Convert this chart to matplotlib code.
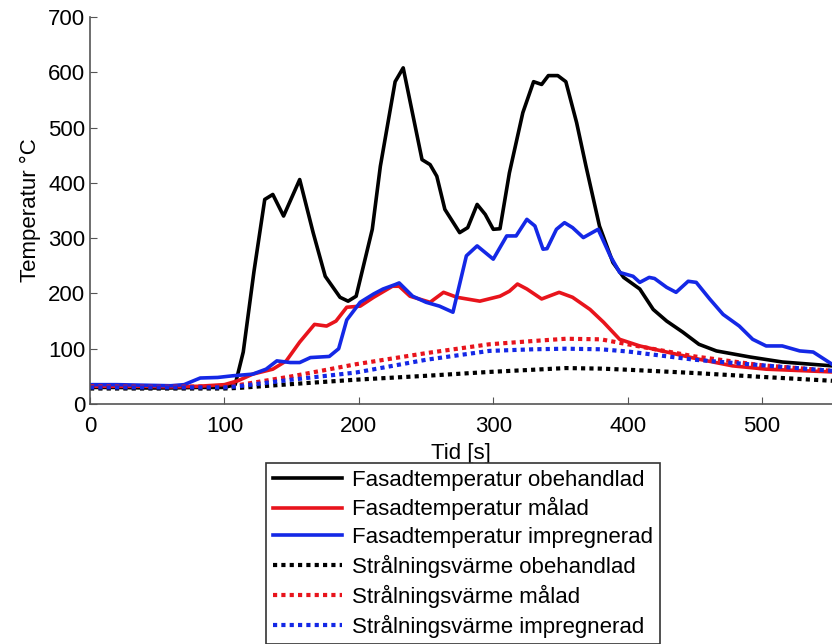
import matplotlib.pyplot as plt

plt.rcParams['font.family'] = ['Liberation Sans', 'DejaVu Sans']

# Fasadtemperatur obehandlad (svart heldragen)
tid_obeh = [0, 20, 40, 60, 80, 100, 108, 114, 122, 130, 136, 144, 156, 166, 175, 186,
            192, 198, 210, 216, 227, 233, 247, 253, 258, 264, 275, 281, 288, 294, 300,
            305, 312, 322, 330, 336, 341, 348, 354, 362, 369, 379, 389, 397, 409, 419,
            429, 441, 453, 466, 491, 515, 552]
temp_obeh = [30, 30, 29, 29, 30, 30, 35, 94, 240, 370, 379, 340, 406, 310, 231, 193,
             186, 195, 316, 430, 583, 608, 442, 433, 412, 352, 310, 319, 361, 343, 316,
             317, 418, 527, 583, 578, 594, 594, 583, 509, 430, 322, 256, 229, 208, 171,
             150, 130, 108, 96, 85, 76, 69]

# Fasadtemperatur målad (röd heldragen)
tid_malad = [0, 20, 40, 60, 80, 100, 110, 121, 136, 146, 156, 167, 176, 183, 191, 201,
             211, 225, 230, 238, 253, 263, 273, 290, 305, 312, 318, 325, 336, 349, 359,
             372, 382, 394, 409, 429, 453, 478, 503, 552]
temp_malad = [32, 32, 32, 31, 32, 35, 42, 54, 63, 78, 112, 144, 141, 150, 175, 177,
              193, 213, 213, 195, 184, 202, 193, 186, 195, 204, 217, 208, 190, 202, 193,
              171, 148, 117, 105, 94, 81, 69, 63, 58]

# Fasadtemperatur impregnerad (blå heldragen)
tid_impr = [0, 20, 40, 60, 70, 82, 95, 106, 121, 131, 139, 149, 156, 164, 178, 185,
            191, 201, 211, 218, 227, 230, 240, 250, 260, 270, 280, 288, 300, 310, 317,
            325, 331, 337, 340, 347, 353, 359, 367, 378, 387, 394, 404, 409, 416, 420,
            429, 436, 445, 451, 461, 471, 483, 493, 503, 515, 528, 538, 552]
temp_impr = [35, 35, 34, 33, 35, 47, 48, 51, 54, 63, 78, 75, 75, 84, 86, 100,
             152, 184, 199, 208, 216, 219, 195, 184, 177, 166, 268, 286, 262, 304, 304,
             334, 322, 280, 281, 316, 328, 319, 301, 316, 268, 238, 231, 220, 229, 227,
             211, 202, 222, 220, 190, 162, 141, 117, 105, 105, 96, 94, 72]

# Strålningsvärme (prickade)
tid_str = [0, 50, 100, 110, 150, 198, 250, 297, 330, 354, 380, 400, 450, 500, 552]
str_obeh = [28, 28, 28, 29, 36, 44, 51, 58, 62, 65, 64, 62, 56, 49, 42]
str_malad = [32, 31, 32, 34, 50, 72, 92, 108, 114, 118, 117, 108, 86, 70, 60]
str_impr = [30, 30, 30, 32, 44, 57, 80, 96, 99, 100, 99, 95, 80, 70, 60]

etiketter = ['Fasadtemperatur obehandlad', 'Fasadtemperatur målad',
             'Fasadtemperatur impregnerad', 'Strålningsvärme obehandlad',
             'Strålningsvärme målad', 'Strålningsvärme impregnerad']

fig = plt.figure(figsize=(8.32, 6.44), dpi=100)
ax = fig.add_axes([90 / 832, 240 / 644, 742 / 832, 387 / 644])

lw = 2.6
prick = (0, (1, 1))
ax.plot(tid_obeh, temp_obeh, color='black', lw=lw, label=etiketter[0])
ax.plot(tid_malad, temp_malad, color='#e8141c', lw=lw, label=etiketter[1])
ax.plot(tid_impr, temp_impr, color='#1428e6', lw=lw, label=etiketter[2])
ax.plot(tid_str, str_obeh, color='black', lw=3, ls=prick, label=etiketter[3])
ax.plot(tid_str, str_malad, color='#e8141c', lw=3, ls=prick, label=etiketter[4])
ax.plot(tid_str, str_impr, color='#1428e6', lw=3, ls=prick, label=etiketter[5])

ax.set_xlim(0, 552)
ax.set_ylim(0, 700)
ax.set_xticks([0, 100, 200, 300, 400, 500])
ax.set_yticks(range(0, 701, 100))
ax.tick_params(direction='in', length=5, labelsize=16, color='#555555')
ax.tick_params(axis='x', pad=9)
for s in ['top', 'right']:
    ax.spines[s].set_visible(False)
for s in ['left', 'bottom']:
    ax.spines[s].set_color('#555555')
    ax.spines[s].set_linewidth(1.2)

ax.set_xlabel('Tid [s]', fontsize=16, labelpad=4)
ax.set_ylabel('Temperatur °C', fontsize=16, labelpad=5)

leg = fig.legend(loc='upper center', bbox_to_anchor=(463 / 832, 181 / 644),
                 fontsize=16, frameon=True, fancybox=False, handlelength=3.1,
                 borderpad=0.3, labelspacing=0.3, handletextpad=0.45,
                 borderaxespad=0)
leg.get_frame().set_edgecolor('#333333')
leg.get_frame().set_linewidth(1.2)
leg.get_frame().set_alpha(1)

fig.savefig('out.png', dpi=100)
